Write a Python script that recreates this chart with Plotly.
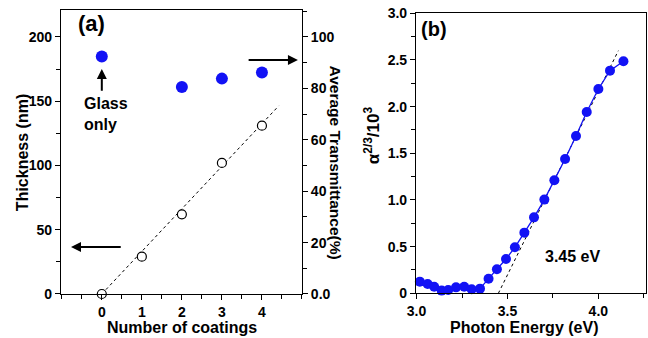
import plotly.graph_objects as go

# Panel (a) data
coatings = [0, 1, 2, 3, 4]
thickness_nm = [0, 29, 62, 102, 131]
trans_coatings = [0, 2, 3, 4]
transmittance = [92.4, 80.5, 83.8, 86.2]
fit_a_x = [0, 4.42]
fit_a_y = [0, 146.4]

# Panel (b) data
energy_ev = [2.982, 3.018, 3.061, 3.097, 3.138, 3.174, 3.217, 3.262, 3.303, 3.349,
             3.396, 3.442, 3.492, 3.541, 3.593, 3.646, 3.703, 3.758, 3.817, 3.877,
             3.936, 4.0, 4.064, 4.138]
alpha23 = [0.161, 0.125, 0.10, 0.071, 0.029, 0.036, 0.064, 0.071, 0.043, 0.05,
           0.157, 0.257, 0.368, 0.493, 0.65, 0.814, 1.004, 1.211, 1.439, 1.686,
           1.943, 2.189, 2.386, 2.486]
fit_b_x = [3.45, 4.11]
fit_b_y = [0.0, 2.6]

BLUE = "#1212F5"
FONT = "Liberation Sans, Arial, sans-serif"

fig = go.Figure()

fig.add_trace(go.Scatter(x=fit_a_x, y=fit_a_y, mode="lines",
                         line=dict(color="black", width=1, dash="dot"),
                         xaxis="x", yaxis="y", showlegend=False))
fig.add_trace(go.Scatter(x=coatings, y=thickness_nm, mode="markers",
                         marker=dict(symbol="circle", size=9, color="white",
                                     line=dict(color="black", width=1.2)),
                         xaxis="x", yaxis="y", showlegend=False, cliponaxis=False))
fig.add_trace(go.Scatter(x=trans_coatings, y=transmittance, mode="markers",
                         marker=dict(symbol="circle", size=12, color=BLUE),
                         xaxis="x", yaxis="y2", showlegend=False))

fig.add_trace(go.Scatter(x=fit_b_x, y=fit_b_y, mode="lines",
                         line=dict(color="black", width=1, dash="dot"),
                         xaxis="x3", yaxis="y3", showlegend=False))
fig.add_trace(go.Scatter(x=energy_ev, y=alpha23, mode="lines+markers",
                         line=dict(color=BLUE, width=1.3),
                         marker=dict(symbol="circle", size=10, color=BLUE),
                         xaxis="x3", yaxis="y3", showlegend=False, cliponaxis=False))

tickfont = dict(family=FONT, size=14, color="black", weight="bold")
common = dict(showgrid=False, zeroline=False, showline=True, linecolor="black",
              linewidth=1.2, ticks="outside", ticklen=5, tickwidth=1.2,
              tickcolor="black", tickfont=tickfont, automargin=False)


def b(vals):
    return ["<b>%s</b>" % v for v in vals]


fig.update_layout(
    template="none",
    width=648, height=338,
    margin=dict(l=0, r=0, t=0, b=0, autoexpand=False),
    paper_bgcolor="white", plot_bgcolor="white",
    xaxis=dict(domain=[0.0941, 0.466], range=[-1.02, 5.0], anchor="y",
               tickvals=[0, 1, 2, 3, 4], ticktext=b(["0", "1", "2", "3", "4"]),
               minor=dict(dtick=0.5, tick0=0, ticks="outside", ticklen=4,
                          tickwidth=1, tickcolor="black"),
               mirror=True, **common),
    yaxis=dict(domain=[0.1302, 0.9704], range=[0, 221], anchor="x",
               tickvals=[0, 50, 100, 150, 200],
               ticktext=b(["0", "50", "100", "150", "200"]),
               minor=dict(dtick=25, ticks="outside", ticklen=4, tickwidth=1,
                          tickcolor="black"),
               **common),
    yaxis2=dict(overlaying="y", side="right", anchor="x", range=[0, 110.5],
                tickvals=[0, 20, 40, 60, 80, 100],
                ticktext=b(["0.0", "20", "40", "60", "80", "100"]),
                minor=dict(dtick=10, ticks="outside", ticklen=4, tickwidth=1,
                           tickcolor="black"),
                **common),
    xaxis3=dict(domain=[0.642, 0.9969], range=[2.997, 4.262], anchor="y3",
                tickvals=[3.0, 3.5, 4.0], ticktext=b(["3.0", "3.5", "4.0"]),
                minor=dict(dtick=0.25, tick0=3.0, ticks="outside", ticklen=4,
                           tickwidth=1, tickcolor="black"),
                mirror=True, **common),
    yaxis3=dict(domain=[0.1322, 0.9606], range=[0, 3.0], anchor="x3",
                tickvals=[0, 0.5, 1.0, 1.5, 2.0, 2.5, 3.0],
                ticktext=b(["0", "0.5", "1.0", "1.5", "2.0", "2.5", "3.0"]),
                minor=dict(dtick=0.25, ticks="outside", ticklen=4, tickwidth=1,
                           tickcolor="black"),
                mirror=True, **common),
)


def bold(size):
    return dict(family=FONT, size=size, color="black", weight="bold")


def label(text, x, y, size, angle=0, xref="paper", yref="paper", **kw):
    d = dict(text=text, x=x, y=y, xref=xref, yref=yref, showarrow=False,
             textangle=angle, font=bold(size), xanchor="center", yanchor="middle")
    d.update(kw)
    return d


ann = [
    label("<b>(a)</b>", 0.117, 0.93, 22, xanchor="left"),
    label("<b>(b)</b>", 0.646, 0.915, 20, xanchor="left"),
    label("<b>Thickness (nm)</b>", 0.034, 0.547, 16, angle=-90),
    label("<b>Number of coatings</b>", 0.2816, 0.0296, 16),
    label("<b>Average Transmittance(%)</b>", 0.518, 0.52, 15.5, angle=90),
    label("<b>α<sup>2/3</sup>/10<sup>3</sup></b>", 0.574, 0.6, 17, angle=-90),
    label("<b>Photon Energy (eV)</b>", 0.809, 0.0296, 16),
    label("<b>3.45 eV</b>", 3.86, 0.39, 16, xref="x3", yref="y3"),
    label("<b>Glass<br>only</b>", -0.5, 140, 16, xref="x", yref="y",
          align="left", xanchor="left"),
    # arrows
    dict(x=0.0, y=175, ax=0.0, ay=157, xref="x", yref="y", axref="x", ayref="y",
         text="", showarrow=True, arrowhead=2, arrowsize=1, arrowwidth=2,
         arrowcolor="black"),
    dict(x=-0.77, y=36.6, ax=0.51, ay=36.6, xref="x", yref="y", axref="x", ayref="y",
         text="", showarrow=True, arrowhead=2, arrowsize=1, arrowwidth=2,
         arrowcolor="black"),
    dict(x=4.9, y=182, ax=3.63, ay=182, xref="x", yref="y", axref="x", ayref="y",
         text="", showarrow=True, arrowhead=2, arrowsize=1, arrowwidth=2,
         arrowcolor="black"),
]
fig.update_layout(annotations=ann)

fig.write_html("out.html", config={"displayModeBar": False},
               post_script="document.body.style.margin='0';"
                           "document.body.style.overflow='hidden';")
